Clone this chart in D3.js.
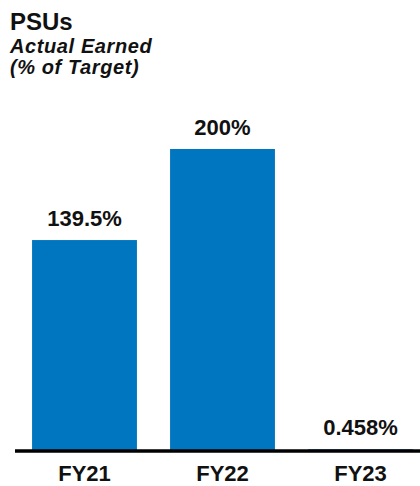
<!DOCTYPE html>
<html>
<head>
<meta charset="utf-8">
<script src="https://cdn.jsdelivr.net/npm/d3@7"></script>
<style>
  html, body { margin: 0; padding: 0; background: #fff; }
  svg { display: block; }
</style>
</head>
<body>
<div id="chart"></div>
<script>
// Chart data
const categories = ["FY21", "FY22", "FY23"];
const values = [139.5, 200, 0.458];
const valueLabels = ["139.5%", "200%", "0.458%"];
const titleLines = ["PSUs", "Actual Earned", "(% of Target)"];

const width = 420;
const height = 486;
const baseline = 450;
const barColour = "#0076c0";
const textColour = "#111111";
const font = "Arial, 'Liberation Sans', sans-serif";

const svg = d3.select("#chart").append("svg")
  .attr("width", width)
  .attr("height", height)
  .attr("viewBox", [0, 0, width, height]);

// Scales
const x = d3.scaleBand()
  .domain(categories)
  .range([15.5, 429.5])
  .paddingInner(0.24)
  .paddingOuter(0.12);

const y = d3.scaleLinear()
  .domain([0, 200])
  .range([baseline, 149]);

// Title block
svg.append("text")
  .attr("x", 10)
  .attr("y", 30)
  .attr("font-family", font)
  .attr("font-size", "24px")
  .attr("font-weight", "bold")
  .attr("fill", textColour)
  .text(titleLines[0]);

svg.selectAll(".subtitle")
  .data(titleLines.slice(1))
  .enter()
  .append("text")
  .attr("class", "subtitle")
  .attr("x", 10)
  .attr("y", (d, i) => 53 + i * 21)
  .attr("font-family", font)
  .attr("font-size", "20px")
  .attr("font-weight", "bold")
  .attr("font-style", "italic")
  .attr("letter-spacing", "0.6px")
  .attr("fill", textColour)
  .text(d => d);

// Bars
svg.selectAll(".bar")
  .data(values)
  .enter()
  .append("rect")
  .attr("class", "bar")
  .attr("x", (d, i) => x(categories[i]))
  .attr("y", d => y(d))
  .attr("width", x.bandwidth())
  .attr("height", d => y(0) - y(d))
  .attr("fill", barColour);

// Value labels
svg.selectAll(".value")
  .data(values)
  .enter()
  .append("text")
  .attr("class", "value")
  .attr("x", (d, i) => x(categories[i]) + x.bandwidth() / 2)
  .attr("y", d => y(d) - 14)
  .attr("text-anchor", "middle")
  .attr("font-family", font)
  .attr("font-size", "22px")
  .attr("font-weight", "bold")
  .attr("fill", textColour)
  .text((d, i) => valueLabels[i]);

// Category axis
const axis = svg.append("g")
  .attr("transform", `translate(0,${baseline + 1})`)
  .call(d3.axisBottom(x).tickSize(0).tickPadding(30));

axis.select(".domain").remove();
axis.append("line")
  .attr("x1", 15)
  .attr("x2", width)
  .attr("stroke", "#000")
  .attr("stroke-width", 3.5);

axis.selectAll(".tick text")
  .attr("font-family", font)
  .attr("font-size", "22px")
  .attr("font-weight", "bold")
  .attr("fill", textColour)
  .attr("dy", 0);
</script>
</body>
</html>
